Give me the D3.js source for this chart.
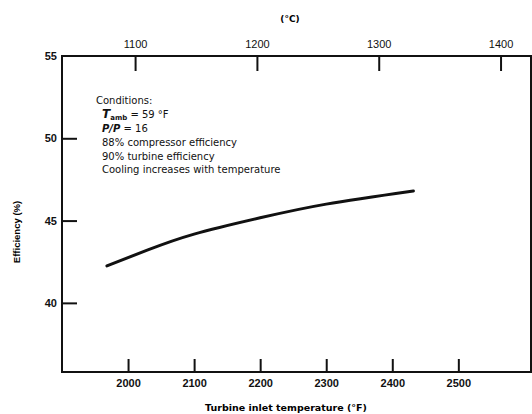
<!DOCTYPE html>
<html>
<head>
<meta charset="utf-8">
<script src="https://cdn.jsdelivr.net/npm/d3@7"></script>
<style>
  body { margin: 0; background: #fff; }
  svg { font-family: "DejaVu Sans", sans-serif; }
  .tick text { fill: #111; }
</style>
</head>
<body>
<svg id="chart" width="532" height="414"></svg>
<script>
// data
const tempF = [1968, 2030, 2100, 2200, 2300, 2432];
const efficiency = [42.25, 43.22, 44.18, 45.17, 46.0, 46.8];
const ticksF = [2000, 2100, 2200, 2300, 2400, 2500];
const ticksC = [1100, 1200, 1300, 1400];
const ticksY = [40, 45, 50, 55];
const conditions = ["88% compressor efficiency", "90% turbine efficiency", "Cooling increases with temperature"];

const svg = d3.select("svg#chart");
const margin = {left: 62, right: 531, top: 56, bottom: 372};

const x = d3.scaleLinear().domain([1900, 2610]).range([margin.left, margin.right]);
// celsius axis on top (drawing scale of the original is slightly off from exact conversion)
const xc = d3.scaleLinear().domain([1040, 1425]).range([margin.left, margin.right]);
const y = d3.scaleLinear().domain([35.8, 55]).range([margin.bottom, margin.top]);

// frame lines
const frame = svg.append("g").attr("stroke", "#111").attr("stroke-width", 2).attr("fill", "none");
frame.append("path").attr("d", `M${margin.left},${margin.top}H${margin.right}V${margin.bottom}H${margin.left}Z`);

// bottom axis, ticks pointing inward
const axisF = svg.append("g").attr("transform", translate(0, margin.bottom))
  .call(d3.axisBottom(x).tickValues(ticksF).tickSize(-13).tickPadding(15).tickFormat(d3.format("d")));
axisF.select(".domain").remove();
axisF.selectAll("line").attr("stroke", "#111").attr("stroke-width", 2);
axisF.selectAll("text").attr("font-size", 11).attr("font-weight", "bold").attr("dy", "0");

// top axis in celsius
const axisC = svg.append("g").attr("transform", translate(0, margin.top))
  .call(d3.axisTop(xc).tickValues(ticksC).tickSize(-15).tickPadding(8).tickFormat(d3.format("d")));
axisC.select(".domain").remove();
axisC.selectAll("line").attr("stroke", "#111").attr("stroke-width", 2);
axisC.selectAll("text").attr("font-size", 11).attr("dy", "0");

// left axis
const axisY = svg.append("g").attr("transform", translate(margin.left, 0))
  .call(d3.axisLeft(y).tickValues(ticksY).tickSize(-15).tickPadding(20));
axisY.select(".domain").remove();
axisY.selectAll("line").attr("stroke", "#111").attr("stroke-width", 2);
axisY.selectAll(".tick").filter(d => d === 55).select("line").remove();
axisY.selectAll("text").attr("font-size", 11).attr("font-weight", "bold").attr("x", -5);

// axis titles
svg.append("text").attr("x", 286).attr("y", 411).attr("text-anchor", "middle")
  .attr("font-size", 9.5).attr("font-weight", "bold").text("Turbine inlet temperature (°F)");
svg.append("text").attr("x", 290).attr("y", 22).attr("text-anchor", "middle")
  .attr("font-size", 9).attr("font-weight", "bold").text("(°C)");
svg.append("text").attr("transform", "translate(20,232) rotate(-90)").attr("text-anchor", "middle")
  .attr("font-family", "Liberation Sans, sans-serif")
  .attr("font-size", 9.5).attr("font-weight", "bold").text("Efficiency (%)");

// conditions block
const note = svg.append("g").attr("font-size", 10).attr("fill", "#111");
note.append("text").attr("x", 96).attr("y", 104).text("Conditions:");
const t1 = note.append("text").attr("x", 102).attr("y", 118);
t1.append("tspan").attr("font-style", "italic").attr("font-weight", "bold").attr("font-size", 12).text("T");
t1.append("tspan").attr("font-size", 7).attr("font-weight", "bold").attr("dy", 2).text("amb");
t1.append("tspan").attr("dy", -2).text(" = 59 °F");
const t2 = note.append("text").attr("x", 102).attr("y", 132);
t2.append("tspan").attr("font-style", "italic").attr("font-weight", "bold").text("P/P");
t2.append("tspan").text(" = 16");
note.selectAll("text.cond").data(conditions).enter().append("text").attr("class", "cond")
  .attr("x", 102).attr("y", (d, i) => 146 + i * 13.5).text(d => d);

// efficiency curve
const line = d3.line().x((d, i) => x(tempF[i])).y(d => y(d)).curve(d3.curveNatural);
svg.append("path").datum(efficiency).attr("d", line)
  .attr("fill", "none").attr("stroke", "#111").attr("stroke-width", 3).attr("stroke-linecap", "round");

function translate(x, y) {
  return "translate(" + String(x) + "," + String(y) + ")";
}
</script>
</body>
</html>
